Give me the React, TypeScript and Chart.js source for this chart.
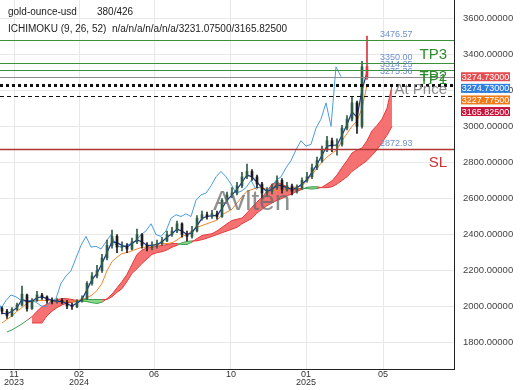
import { useEffect, useRef } from "react";
import { Chart, registerables } from "chart.js";
Chart.register(...registerables);

const FONT = "'Liberation Sans', Arial, sans-serif";

// ---- price data (one candle every BAR_STEP bars, starting at bar BAR_START) ----
const BAR_START = 2;
const BAR_STEP = 5;
const opens = [
  1990, 1975, 1950, 1985, 2010, 2065, 1990, 2035, 2065, 2055,
  2035, 2030, 2035, 2025, 2005, 2000, 2030, 2045, 2130, 2170,
  2200, 2270, 2340, 2390, 2330, 2335, 2320, 2360, 2400, 2340,
  2330, 2340, 2350, 2365, 2400, 2420, 2460, 2400, 2390, 2420,
  2490, 2510, 2500, 2515, 2500, 2590, 2620, 2630, 2670, 2720,
  2750, 2720, 2680, 2630, 2640, 2660, 2700, 2650, 2670, 2640,
  2660, 2700, 2720, 2770, 2810, 2870, 2920, 2890, 2900, 2990,
  3040, 3130, 3000, 3330,
];
const highs = [
  2000, 1985, 1995, 2020, 2115, 2070, 2045, 2085, 2075, 2060,
  2050, 2045, 2045, 2035, 2020, 2040, 2060, 2140, 2190, 2230,
  2290, 2370, 2425, 2400, 2360, 2350, 2380, 2430, 2405, 2355,
  2360, 2370, 2385, 2420, 2440, 2475, 2465, 2420, 2445, 2505,
  2530, 2525, 2535, 2530, 2600, 2635, 2660, 2690, 2745, 2790,
  2760, 2730, 2690, 2660, 2680, 2725, 2710, 2690, 2680, 2675,
  2715, 2745, 2790, 2830, 2890, 2945, 2935, 2930, 3005, 3060,
  3165, 3140, 3360, 3500,
];
const lows = [
  1960, 1935, 1945, 1980, 2005, 1975, 1985, 2030, 2040, 2020,
  2015, 2020, 2015, 1990, 1985, 1995, 2025, 2040, 2120, 2160,
  2190, 2260, 2325, 2300, 2310, 2300, 2315, 2350, 2325, 2310,
  2315, 2325, 2340, 2360, 2390, 2410, 2385, 2365, 2380, 2415,
  2480, 2485, 2490, 2485, 2495, 2580, 2605, 2620, 2660, 2710,
  2700, 2660, 2600, 2610, 2625, 2650, 2630, 2640, 2620, 2630,
  2650, 2690, 2710, 2760, 2800, 2860, 2860, 2840, 2890, 2980,
  3030, 2960, 2990, 3260,
];
const closes = [
  1975, 1950, 1985, 2010, 2070, 1990, 2035, 2065, 2055, 2035,
  2030, 2035, 2025, 2005, 2000, 2030, 2045, 2130, 2170, 2200,
  2270, 2340, 2390, 2330, 2335, 2320, 2360, 2400, 2340, 2330,
  2340, 2350, 2365, 2400, 2420, 2460, 2400, 2390, 2420, 2490,
  2510, 2500, 2515, 2500, 2590, 2620, 2630, 2670, 2720, 2750,
  2720, 2680, 2630, 2640, 2660, 2700, 2650, 2670, 2640, 2660,
  2700, 2720, 2770, 2810, 2870, 2920, 2890, 2900, 2990, 3040,
  3130, 3000, 3330, 3275,
];
const tenkan = [
  1965, 1960, 1975, 1995, 2040, 2030, 2030, 2050, 2055, 2045,
  2035, 2030, 2030, 2015, 2005, 2020, 2040, 2095, 2150, 2185,
  2240, 2300, 2360, 2355, 2340, 2330, 2350, 2370, 2360, 2340,
  2340, 2345, 2360, 2385, 2405, 2430, 2420, 2400, 2410, 2450,
  2490, 2500, 2505, 2505, 2545, 2590, 2620, 2650, 2690, 2730,
  2720, 2690, 2660, 2640, 2650, 2675, 2670, 2660, 2650, 2660,
  2680, 2705, 2745, 2790, 2840, 2890, 2895, 2895, 2950, 3010,
  3080, 3050, 3200, 3300,
];
const kijun = [
  1910, 1930, 1950, 1975, 1995, 2020, 2030, 2035, 2035, 2035,
  2030, 2030, 2030, 2030, 2030, 2035, 2040, 2050, 2065, 2090,
  2130, 2200, 2250, 2275, 2295, 2300, 2310, 2320, 2330, 2330,
  2340, 2345, 2350, 2350, 2355, 2370, 2390, 2400, 2420, 2440,
  2450, 2460, 2470, 2480, 2510, 2525, 2540, 2575, 2610, 2640,
  2650, 2660, 2660, 2650, 2645, 2645, 2645, 2650, 2660, 2665,
  2670, 2700, 2730, 2770, 2800, 2830, 2850, 2870, 2920, 2960,
  3000, 3030, 3100, 3228,
];
const CHIKOU_SHIFT = 26;

// ---- cloud (already displaced forward) ----
const CLOUD_START = 7;
const CLOUD_STEP = 5;
const spanA = [
  1860, 1872, 1888, 1905, 1925, 1945, 1975, 2000, 2015, 2030,
  2040, 2045, 2045, 2040, 2035, 2032, 2028, 2022, 2018, 2025,
  2045, 2070, 2105, 2140, 2180, 2235, 2290, 2315, 2325, 2330,
  2335, 2340, 2345, 2350, 2350, 2345, 2345, 2358, 2378, 2395,
  2400, 2405, 2420, 2440, 2460, 2478, 2485, 2492, 2520, 2552,
  2580, 2608, 2640, 2680, 2690, 2678, 2665, 2650, 2652, 2657,
  2655, 2652, 2655, 2662, 2680, 2698, 2730, 2772, 2810, 2852,
  2868, 2880, 2920, 2975, 3005, 3040, 3100, 3225,
];
const spanB: (number | null)[] = [
  null, null, null, null, null, 1910, 1910, 1910, 1950, 1975,
  1995, 2010, 2020, 2025, 2030, 2040, 2040, 2040, 2040, 2040,
  2040, 2055, 2080, 2100, 2140, 2185, 2210, 2240, 2265, 2290,
  2300, 2305, 2315, 2330, 2340, 2355, 2362, 2365, 2365, 2372,
  2380, 2390, 2400, 2410, 2420, 2430, 2440, 2460, 2475, 2490,
  2520, 2540, 2560, 2575, 2590, 2600, 2615, 2625, 2640, 2650,
  2662, 2665, 2665, 2660, 2660, 2665, 2680, 2700, 2720, 2750,
  2770, 2790, 2810, 2840, 2870, 2910, 2950, 3000,
];

// ---- axes ----
const X_MIN = 0;
const X_MAX = 454;
const Y_MIN = 1655;
const Y_MAX = 3700;
const xTickBars = [14, 79, 154, 231, 306, 383];
const xTickLabels = [["11", "2023"], ["02", "2024"], ["06"], ["10"], ["01", "2025"], ["05"]];
const yTickValues = [1800, 2000, 2200, 2400, 2600, 2800, 3000, 3200, 3400, 3600];
const yClippedTick = 1600;

// ---- levels & annotations ----
const targetLevels = [3476.57, 3350.0, 3314.25];
const entryLevel = 3275.36;
const stopLevel = 2872.93;
const kijunLevel = 3227.775;
const spanLevel = 3165.825;
const levelLabelValues = [3476.57, 3350.0, 3314.25, 3275.36, 2872.93];
const noteTexts = ["TP3", "TP1", "TP2", "At Price", "SL"];
const noteValues = [3395, 3259, 3273, 3201, 2797];
const badgeValues = [3274.73, 3274.73, 3227.775, 3165.825];
const legendName = "gold-ounce-usd";
const legendCount = "380/426";
const legendIndicator = "ICHIMOKU (9, 26, 52)  n/a/n/a/n/a/n/a/3231.07500/3165.82500";
const watermark = "Avlten";

// ---- styles ----
const RED_LINE = "#e23b3b";
const GREEN_LINE = "#3f9e55";
const RED_FILL = "rgba(245, 98, 98, 0.9)";
const GREEN_FILL = "rgba(122, 214, 122, 0.9)";
const noteColors = ["#2e8b2e", "#2e8b2e", "#2e8b2e", "#8a8a8a", "#cc3333"];
const badgeColors = ["#e44c50", "#2f7fe0", "#f07a18", "#c8143c"];

export default function App() {
  const ref = useRef<HTMLCanvasElement>(null);

  useEffect(() => {
    const canvas = ref.current;
    if (!canvas) return;
    const bars = closes.map((_, i) => BAR_START + i * BAR_STEP);
    const cloudX = spanA.map((_, i) => CLOUD_START + i * CLOUD_STEP);
    const last = closes.length - 1;
    const candleColors = closes.map((c, i) =>
      i === last ? "#d9363e" : c >= opens[i] ? "#2d5e45" : "#1c1c1c"
    );
    const wicks = closes.map((_, i) => ({ x: bars[i], y: [lows[i], highs[i]] }));
    const bodies = closes.map((c, i) => ({
      x: bars[i],
      y: [Math.min(opens[i], c), Math.max(opens[i], c)],
    }));
    const cloudIsRed = (i: number) => {
      const b = spanB[i];
      if (b == null) return false;
      return spanA[i] >= b;
    };
    const segColor = (ctx: any) => (cloudIsRed(ctx.p1DataIndex) ? RED_LINE : GREEN_LINE);

    const overlay = {
      id: "overlay",
      afterDatasetsDraw(chart: any) {
        const { ctx, chartArea: a, scales } = chart;
        const y = scales.y;
        ctx.save();
        ctx.beginPath();
        ctx.rect(a.left, a.top, a.right - a.left, a.bottom - a.top);
        ctx.clip();

        // watermark
        ctx.globalAlpha = 0.75;
        ctx.fillStyle = "#6a6a6a";
        ctx.font = `28px ${FONT}`;
        ctx.textAlign = "left";
        ctx.textBaseline = "middle";
        ctx.fillText(watermark, 213, y.getPixelForValue(2580));
        ctx.globalAlpha = 1;

        const hline = (v: number, color: string, width: number, dash: number[]) => {
          const py = Math.round(y.getPixelForValue(v)) + (width % 2 ? 0.5 : 0);
          ctx.beginPath();
          ctx.setLineDash(dash);
          ctx.strokeStyle = color;
          ctx.lineWidth = width;
          ctx.moveTo(a.left, py);
          ctx.lineTo(a.right, py);
          ctx.stroke();
        };
        targetLevels.forEach((v) => hline(v, "#3d8f3d", 1, []));
        hline(entryLevel, "#8c8c8c", 1, []);
        hline(stopLevel, "#b03434", 1.5, []);
        hline(kijunLevel, "#111111", 3, [3, 3]);
        hline(spanLevel, "#111111", 1, [4, 3]);
        ctx.setLineDash([]);

        ctx.font = `9px ${FONT}`;
        ctx.fillStyle = "#6f8fd0";
        ctx.textAlign = "left";
        ctx.textBaseline = "alphabetic";
        levelLabelValues.forEach((v) => {
          ctx.fillText(v.toFixed(2), a.right - 74, y.getPixelForValue(v) - 3);
        });

        ctx.font = `15px ${FONT}`;
        ctx.textAlign = "right";
        ctx.textBaseline = "middle";
        noteTexts.forEach((t, i) => {
          ctx.fillStyle = noteColors[i];
          ctx.fillText(t, a.right - 7, y.getPixelForValue(noteValues[i]));
        });
        ctx.restore();

        // legend text
        ctx.save();
        ctx.font = `10px ${FONT}`;
        ctx.fillStyle = "#222";
        ctx.textAlign = "left";
        ctx.textBaseline = "middle";
        ctx.fillText(legendName, 8, 12.5);
        ctx.fillText(legendCount, 97, 12.5);
        ctx.fillText(legendIndicator, 8, 29);
        ctx.restore();
      },
      afterDraw(chart: any) {
        const { ctx, chartArea: a, scales } = chart;
        const y = scales.y;
        ctx.save();
        // partially hidden lowest tick label
        ctx.beginPath();
        ctx.rect(a.right + 1, 0, 520 - a.right, 371);
        ctx.clip();
        ctx.font = `9.5px ${FONT}`;
        ctx.fillStyle = "#444";
        ctx.textAlign = "left";
        ctx.textBaseline = "middle";
        ctx.fillText(yClippedTick.toFixed(5), a.right + 9, y.getPixelForValue(yClippedTick));
        ctx.restore();

        // price badges
        ctx.save();
        ctx.font = `9px ${FONT}`;
        ctx.textAlign = "center";
        ctx.textBaseline = "middle";
        let prev = -1e9;
        badgeValues.forEach((v, i) => {
          let cy = y.getPixelForValue(v);
          if (cy < prev + 11.6) cy = prev + 11.6;
          prev = cy;
          ctx.fillStyle = badgeColors[i];
          ctx.fillRect(a.right + 7, cy - 4.5, 49, 9);
          ctx.fillStyle = "#ffffff";
          ctx.fillText(v.toFixed(5), a.right + 7 + 24.5, cy + 0.5);
        });
        ctx.restore();
      },
    };

    const chart = new Chart(canvas, {
      type: "line",
      data: {
        datasets: [
          {
            type: "bar",
            label: "body",
            data: bodies as any,
            backgroundColor: candleColors,
            barThickness: 2,
            minBarLength: 1,
            grouped: false,
            order: 0,
          } as any,
          {
            type: "bar",
            label: "wick",
            data: wicks as any,
            backgroundColor: candleColors,
            barThickness: 1,
            grouped: false,
            order: 1,
          } as any,
          {
            label: "tenkan",
            data: tenkan.map((v, i) => ({ x: bars[i], y: v })),
            borderColor: "#1f2f9f",
            borderWidth: 1.2,
            pointRadius: 0,
            tension: 0,
            order: 2,
          },
          {
            label: "chikou",
            data: closes.map((v, i) => ({ x: bars[i] - CHIKOU_SHIFT, y: v })),
            borderColor: "#4a9be0",
            borderWidth: 1,
            pointRadius: 0,
            order: 3,
          },
          {
            label: "kijun",
            data: kijun.map((v, i) => ({ x: bars[i], y: v })),
            borderColor: "#f0852d",
            borderWidth: 1,
            pointRadius: 0,
            order: 4,
          },
          {
            label: "spanB",
            data: spanB.map((v, i) => ({ x: cloudX[i], y: v })),
            borderColor: RED_LINE,
            borderWidth: 1,
            pointRadius: 0,
            segment: { borderColor: segColor },
            order: 5,
          } as any,
          {
            label: "spanA",
            data: spanA.map((v, i) => ({ x: cloudX[i], y: v })),
            borderColor: RED_LINE,
            borderWidth: 1,
            pointRadius: 0,
            segment: { borderColor: segColor },
            fill: { target: 5, above: RED_FILL, below: GREEN_FILL },
            order: 6,
          } as any,
        ],
      },
      options: {
        responsive: false,
        animation: false,
        maintainAspectRatio: false,
        layout: { padding: 0 },
        plugins: { legend: { display: false }, tooltip: { enabled: false } },
        scales: {
          x: {
            type: "linear",
            min: X_MIN,
            max: X_MAX,
            offset: false,
            grid: { color: "#e8e8e8", drawTicks: false, offset: false },
            border: { color: "#222", width: 1 },
            afterBuildTicks: (s: any) => {
              s.ticks = xTickBars.map((v) => ({ value: v }));
            },
            afterFit: (s: any) => {
              s.height = 21;
              s.paddingLeft = 0;
              s.paddingRight = 0;
            },
            ticks: {
              autoSkip: false,
              maxRotation: 0,
              padding: 2,
              color: "#333",
              font: { family: FONT, size: 9, lineHeight: 0.85 },
              callback: (v: any) => {
                const k = xTickBars.indexOf(Number(v));
                return k >= 0 ? xTickLabels[k] : "";
              },
            },
          },
          y: {
            type: "linear",
            position: "right",
            min: Y_MIN,
            max: Y_MAX,
            grid: { color: "#e8e8e8", drawTicks: false },
            border: { color: "#222", width: 1 },
            afterBuildTicks: (s: any) => {
              s.ticks = yTickValues.map((v) => ({ value: v }));
            },
            afterFit: (s: any) => {
              s.width = 66;
              s.paddingTop = 0;
              s.paddingBottom = 0;
            },
            ticks: {
              padding: 9,
              color: "#444",
              font: { family: FONT, size: 9.5 },
              callback: (v: any) => Number(v).toFixed(5),
            },
          },
        },
      } as any,
      plugins: [overlay],
    });
    return () => chart.destroy();
  }, []);

  return (
    <div style={{ position: "fixed", left: 0, top: 0, width: 520, height: 390, background: "#fff" }}>
      <canvas ref={ref} width={520} height={390} style={{ display: "block" }} />
    </div>
  );
}
